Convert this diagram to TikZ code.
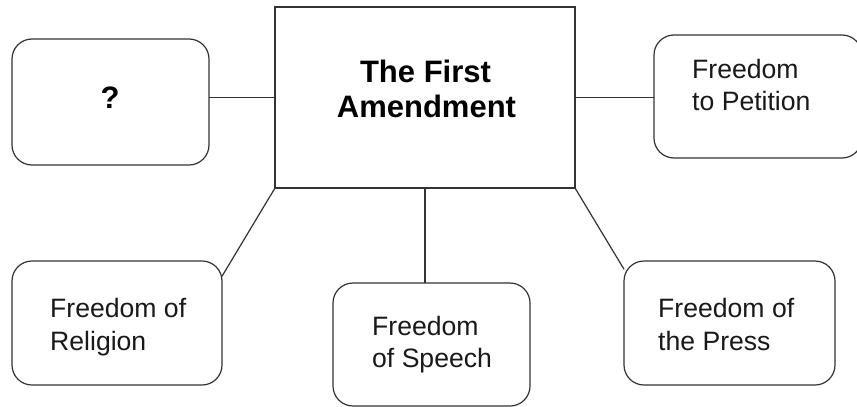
\documentclass[tikz,border=0pt]{standalone}
\usepackage{fontspec}
\setmainfont{Liberation Sans}
\begin{document}
\begin{tikzpicture}[x=1pt,y=-1pt,
  box/.style={draw=black!80, line width=1.2pt, inner sep=0pt, outer sep=0pt},
  rbox/.style={box, rounded corners=20pt},
  link/.style={draw=black!80, line width=1.2pt},
  lbl/.style={inner sep=0pt, anchor=base west, font=\fontsize{26.6}{32}\selectfont, text=black!90},
  blbl/.style={inner sep=0pt, anchor=base, font=\fontsize{31}{35}\selectfont\bfseries, text=black}]
\clip (0,0) rectangle (857,407);
\fill[white] (0,0) rectangle (857,407);
% boxes
\node[box, minimum width=300pt, minimum height=181pt] (main) at (425,97.5) {};
\node[rbox, minimum width=197pt, minimum height=126pt] (q) at (110.5,102) {};
\node[rbox, minimum width=208pt, minimum height=123pt] (pet) at (758,96.5) {};
\node[rbox, minimum width=210pt, minimum height=124pt] (rel) at (117,323) {};
\node[rbox, minimum width=197pt, minimum height=123pt] (spe) at (431.5,344.5) {};
\node[rbox, minimum width=211pt, minimum height=124pt] (pre) at (729.5,323) {};
% connectors
\draw[link] (main.west) -- (main.west -| q.east);
\draw[link] (main.east) -- (main.east -| pet.west);
\draw[link] (main.south west) -- (rel.24.6);
\draw[link] (main.south) -- (main.south |- spe.north);
\draw[link] (main.south east) -- (pre.153.1);
% texts
\node[blbl] (t1) at (425.5,82) {The First};
\node[blbl] (t2) at (426.5,117) {Amendment};
\node[blbl] (tq) at (110,108) {?};
\node[lbl] (p1) at (692,78) {Freedom};
\node[lbl] (p2) at (692,110) {to Petition};
\node[lbl] (r1) at (50,317) {Freedom of};
\node[lbl] (r2) at (50,350) {Religion};
\node[lbl] (s1) at (372,335) {Freedom};
\node[lbl] (s2) at (372,367) {of Speech};
\node[lbl] (f1) at (658,317) {Freedom of};
\node[lbl] (f2) at (658,350) {the Press};
\end{tikzpicture}
\end{document}
